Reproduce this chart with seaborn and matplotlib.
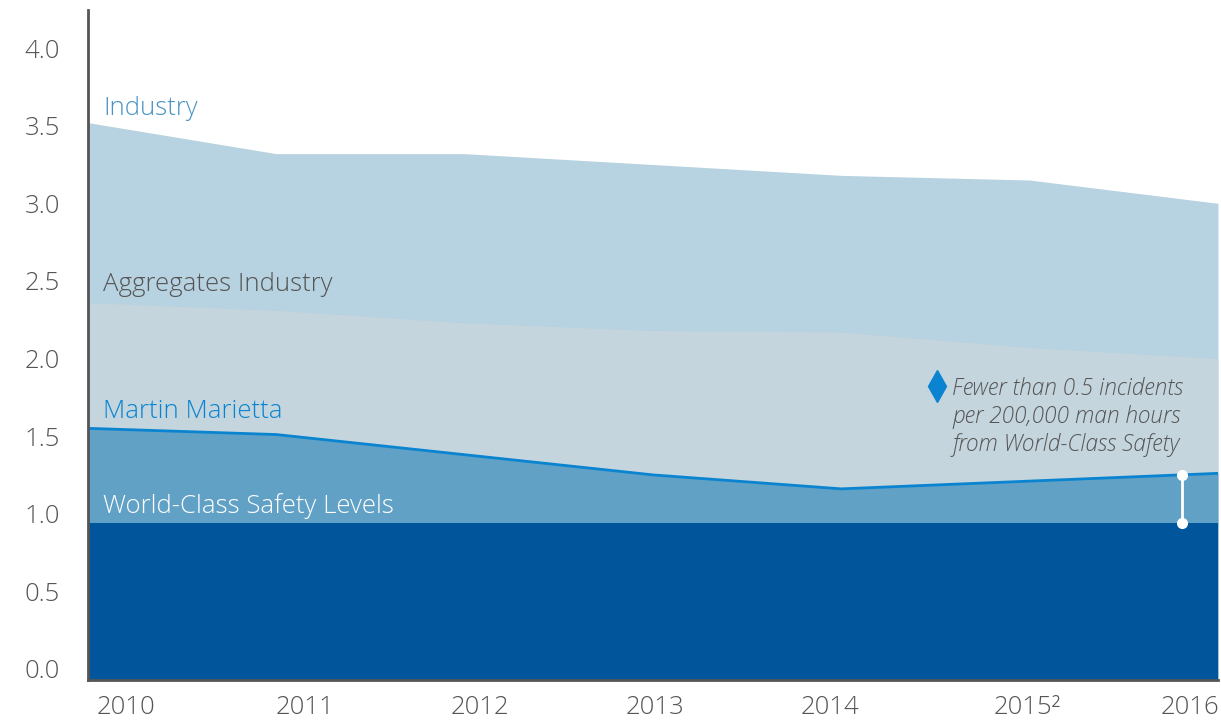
import numpy as np
import pandas as pd
import matplotlib.pyplot as plt
import seaborn as sns

# datos
years = [2010, 2011, 2012, 2013, 2014, 2015, 2016]
industry = [3.52, 3.32, 3.32, 3.25, 3.18, 3.15, 3.00]
aggregates = [2.36, 2.31, 2.23, 2.18, 2.17, 2.07, 2.00]
martin_marietta = [1.55, 1.51, 1.38, 1.25, 1.16, 1.21, 1.26]
world_class = [0.94] * 7
year_labels = ["2010", "2011", "2012", "2013", "2014", "2015²", "2016"]
label_pos = [2010.2, 2011.15, 2012.08, 2013.01, 2013.94, 2014.99, 2015.85]
bracket_year = 2015.81

df = pd.DataFrame({"year": years, "industry": industry, "aggregates": aggregates,
                   "mm": martin_marietta, "wc": world_class})

sns.set_style("white")
plt.rcParams["font.family"] = ["Open Sans", "DejaVu Sans"]
plt.rcParams["font.weight"] = "light"

GRAY = "#555555"
fig = plt.figure(figsize=(12.21, 7.21), dpi=100)
ax = fig.add_axes([0.072, 0.057, 0.9255, 0.929])

ybot, ytop = -0.071, 4.245
ax.fill_between(df["year"], ybot, df["industry"], color="#b7d2e0", lw=0)
ax.fill_between(df["year"], ybot, df["aggregates"], color="#c4d5dd", lw=0)
ax.fill_between(df["year"], ybot, df["mm"], color="#62a1c6", lw=0)
ax.fill_between(df["year"], ybot, df["wc"], color="#00559b", lw=0)
sns.lineplot(data=df, x="year", y="mm", color="#0a84d0", lw=2, ax=ax)

# brecha hasta World-Class
mm_at = np.interp(bracket_year, years, martin_marietta)
ax.plot([bracket_year, bracket_year], [world_class[-1], mm_at], color="white", lw=2,
        marker="o", ms=7, zorder=5)
ax.plot([2014.51], [1.82], marker="d", color="#0a84d0", ms=16)
ax.text(2014.59, 1.88, "Fewer than 0.5 incidents\nper 200,000 man hours\nfrom World-Class Safety",
        fontsize=16.3, style="italic", color=GRAY, va="top", ha="left", linespacing=1.22)

tx = 2010.08
ax.text(tx, 3.61, "Industry", fontsize=18.5, color="#4a93c3", va="center")
ax.text(tx, 2.48, "Aggregates Industry", fontsize=18.5, color=GRAY, va="center")
ax.text(tx, 1.66, "Martin Marietta", fontsize=18.5, color="#0a84d0", va="center")
ax.text(tx, 1.05, "World-Class Safety Levels", fontsize=18.5, color="white", va="center")

ax.set_xlim(2010, 2016)
ax.set_ylim(ybot, ytop)
ax.set_yticks(np.arange(0, 4.01, 0.5))
ax.set_yticklabels([f"{v:.1f}" for v in np.arange(0, 4.01, 0.5)])
ax.set_xticks(label_pos)
ax.set_xticklabels(year_labels)
ax.tick_params(axis="y", length=0, pad=20, labelsize=18.5, labelcolor=GRAY)
ax.tick_params(axis="x", length=0, pad=11, labelsize=18.5, labelcolor=GRAY)
ax.set_xlabel("")
ax.set_ylabel("")
for s in ["top", "right"]:
    ax.spines[s].set_visible(False)
for s in ["left", "bottom"]:
    ax.spines[s].set_color(GRAY)
    ax.spines[s].set_linewidth(2)

fig.savefig("out.png", dpi=100)
